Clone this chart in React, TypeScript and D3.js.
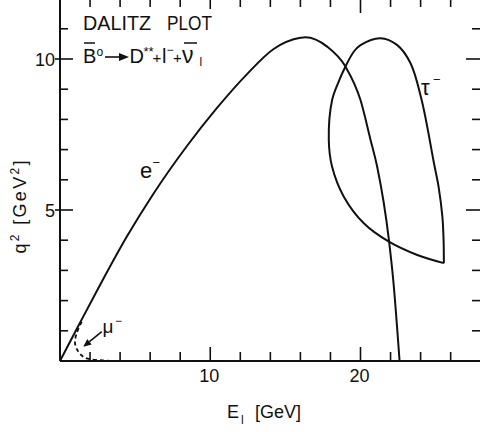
import React from "react";
import * as d3 from "d3";

// e- boundary (E_l in GeV, q^2 in GeV^2)
const eE = [0, 1.2, 2.55, 4.45, 6.22, 8.45, 10.45, 12.45, 14.22, 16.0, 16.33, 17.78, 19.0, 20.0, 20.67, 21.11, 21.89, 22.18, 22.6];
const eQ2 = [0, 1.14, 2.41, 4.12, 5.54, 7.12, 8.38, 9.5, 10.33, 10.7, 10.72, 10.41, 9.75, 8.64, 7.32, 6.43, 4.01, 2.68, 0];

// tau boundary (closed loop, starting and ending at the cusp)
const tauE = [25.55, 23.78, 21.89, 20.22, 18.89, 18.11, 17.89, 18.11, 18.52, 19.0, 19.55, 20.0, 21.33, 22.45, 23.33, 24.07, 24.89, 25.2, 25.45, 25.53, 25.55];
const tauQ2 = [3.24, 3.51, 3.95, 4.56, 5.44, 6.43, 7.32, 8.64, 9.22, 9.75, 10.24, 10.46, 10.69, 10.46, 9.86, 8.64, 6.55, 5.76, 4.78, 4.0, 3.24];

// mu boundary (dashed)
const muE = [1.45, 1.11, 1.0, 1.22, 1.55, 2.0, 2.87, 3.33];
const muQ2 = [1.3, 0.92, 0.59, 0.31, 0.14, 0.06, 0.02, 0];

// ticks
const xMajor = [10, 20];
const xMajorLabels = ["10", "20"];
const yMajor = [5, 10];
const yMajorLabels = ["5", "10"];
const xMinor = [2, 4, 6, 8, 12, 14, 16, 18, 22, 24, 26];
const yMinor = [1, 2, 3, 4, 6, 7, 8, 9, 11];

const W = 480;
const H = 432;
const FONT = "'Liberation Sans', Arial, sans-serif";
const INK = "#111";

export default function App() {
  const x = d3.scaleLinear().domain([0, 20]).range([60, 360.5]);
  const y = d3.scaleLinear().domain([0, 10]).range([361, 59]);
  const x0 = x(0);
  const y0 = y(0);

  const lineCR = d3
    .line<[number, number]>()
    .x((d) => x(d[0]))
    .y((d) => y(d[1]))
    .curve(d3.curveCatmullRom.alpha(0.5));
  const lineMono = d3
    .line<[number, number]>()
    .x((d) => x(d[0]))
    .y((d) => y(d[1]))
    .curve(d3.curveMonotoneX);

  const ePath = lineMono(eE.map((v, i) => [v, eQ2[i]] as [number, number])) || "";
  const tauPath = lineCR(tauE.map((v, i) => [v, tauQ2[i]] as [number, number])) || "";
  const muPath = lineCR(muE.map((v, i) => [v, muQ2[i]] as [number, number])) || "";

  // mu arrow (annotation)
  const aStart: [number, number] = [x(2.78), y(0.97)];
  const aTip: [number, number] = [x(1.55), y(0.47)];
  const ang = Math.atan2(aTip[1] - aStart[1], aTip[0] - aStart[0]);
  const hl = 8, hw = 3.5;
  const bx = aTip[0] - hl * Math.cos(ang);
  const by = aTip[1] - hl * Math.sin(ang);
  const head = `M${aTip[0]},${aTip[1]} L${bx + hw * Math.sin(ang)},${by - hw * Math.cos(ang)} L${bx - hw * Math.sin(ang)},${by + hw * Math.cos(ang)} Z`;

  return (
    <svg
      width={W}
      height={H}
      viewBox={`0 0 ${W} ${H}`}
      style={{ position: "absolute", left: 0, top: 0, background: "#fff" }}
      fontFamily={FONT}
    >
      <rect x={0} y={0} width={W} height={H} fill="#fff" />

      {/* axes */}
      <line x1={x0} y1={0} x2={x0} y2={y0} stroke={INK} strokeWidth={2} />
      <line x1={x0} y1={y0} x2={W} y2={y0} stroke={INK} strokeWidth={2} />

      {/* left ticks */}
      {yMinor.map((v) => (
        <line key={"yl" + v} x1={x0} x2={x0 + 8} y1={y(v)} y2={y(v)} stroke={INK} strokeWidth={1.6} />
      ))}
      {yMajor.map((v) => (
        <line key={"yL" + v} x1={x0 - 5} x2={x0 + 13} y1={y(v)} y2={y(v)} stroke={INK} strokeWidth={1.6} />
      ))}
      {yMajor.map((v, i) => (
        <text key={"yt" + v} x={x0 - 5} y={y(v) + 6.5} fontSize={18} textAnchor="end" fill={INK}>
          {yMajorLabels[i]}
        </text>
      ))}

      {/* right ticks */}
      {yMinor.map((v) => (
        <line key={"yr" + v} x1={W - 8} x2={W} y1={y(v)} y2={y(v)} stroke={INK} strokeWidth={1.6} />
      ))}
      {yMajor.map((v) => (
        <line key={"yR" + v} x1={W - 14} x2={W} y1={y(v)} y2={y(v)} stroke={INK} strokeWidth={1.6} />
      ))}

      {/* bottom ticks */}
      {xMinor.map((v) => (
        <line key={"xb" + v} x1={x(v)} x2={x(v)} y1={y0} y2={y0 - 9} stroke={INK} strokeWidth={1.6} />
      ))}
      {xMajor.map((v) => (
        <line key={"xB" + v} x1={x(v)} x2={x(v)} y1={y0} y2={y0 - 14} stroke={INK} strokeWidth={1.6} />
      ))}
      {xMajor.map((v, i) => (
        <text key={"xt" + v} x={x(v) - 1} y={382} fontSize={18} textAnchor="middle" fill={INK}>
          {xMajorLabels[i]}
        </text>
      ))}

      {/* top ticks */}
      {xMinor.map((v) => (
        <line key={"xt2" + v} x1={x(v)} x2={x(v)} y1={0} y2={7} stroke={INK} strokeWidth={1.6} />
      ))}
      {xMajor.map((v) => (
        <line key={"xT" + v} x1={x(v)} x2={x(v)} y1={0} y2={v === 20 ? 13 : 9} stroke={INK} strokeWidth={1.6} />
      ))}

      {/* curves */}
      <path d={ePath} fill="none" stroke={INK} strokeWidth={2} />
      <path d={tauPath} fill="none" stroke={INK} strokeWidth={2} strokeLinejoin="miter" />
      <path d={muPath} fill="none" stroke={INK} strokeWidth={1.8} strokeDasharray="4,3" />

      {/* mu arrow */}
      <line x1={aStart[0]} y1={aStart[1]} x2={bx} y2={by} stroke={INK} strokeWidth={1.6} />
      <path d={head} fill={INK} />

      {/* curve labels */}
      <text x={140} y={178} fontSize={22} fill={INK}>e</text>
      <text x={152.5} y={167} fontSize={13} fill={INK}>−</text>
      <text x={421} y={95} fontSize={22} fill={INK}>τ</text>
      <text x={433} y={84} fontSize={13} fill={INK}>−</text>
      <text x={102.5} y={333} fontSize={19} fill={INK}>μ</text>
      <text x={115} y={325} fontSize={12} fill={INK}>−</text>

      {/* title */}
      <text x={83} y={30} fontSize={20} fill={INK} textLength={68} lengthAdjust="spacingAndGlyphs">DALITZ</text>
      <text x={167} y={30} fontSize={20} fill={INK} textLength={45} lengthAdjust="spacingAndGlyphs">PLOT</text>

      {/* reaction */}
      <text x={83} y={63} fontSize={20} fill={INK}>B</text>
      <line x1={84} x2={95} y1={43} y2={43} stroke={INK} strokeWidth={1.5} />
      <text x={96.5} y={56} fontSize={12} fill={INK}>o</text>
      <line x1={105} x2={121} y1={57} y2={57} stroke={INK} strokeWidth={1.6} />
      <path d="M129,57 L119,53 L119,61 Z" fill={INK} />
      <text x={129.5} y={63} fontSize={20} fill={INK}>D</text>
      <text x={143.5} y={56} fontSize={13} fill={INK}>**</text>
      <text x={152.5} y={63} fontSize={15} fill={INK}>+</text>
      <text x={162} y={63} fontSize={20} fill={INK}>l</text>
      <text x={166.5} y={54} fontSize={12} fill={INK}>−</text>
      <text x={173} y={63} fontSize={15} fill={INK}>+</text>
      <text x={182} y={63} fontSize={23} fill={INK}>ν</text>
      <line x1={184} x2={197} y1={43} y2={43} stroke={INK} strokeWidth={1.5} />
      <text x={199.5} y={66} fontSize={12} fill={INK}>l</text>

      {/* axis titles */}
      <text x={227} y={418} fontSize={18} fill={INK}>E</text>
      <text x={241} y={424} fontSize={12} fill={INK}>l</text>
      <text x={255} y={418} fontSize={18} fill={INK}>[GeV]</text>

      <g transform="translate(26,207) rotate(-90)">
        <text x={0} y={0} fontSize={18} textAnchor="middle" fill={INK} textLength={93} lengthAdjust="spacing">
          q<tspan fontSize={12} dy={-7}>2</tspan>
          <tspan dy={7}>{"  [GeV"}</tspan>
          <tspan fontSize={12} dy={-7}>2</tspan>
          <tspan dy={7}>]</tspan>
        </text>
      </g>
    </svg>
  );
}
